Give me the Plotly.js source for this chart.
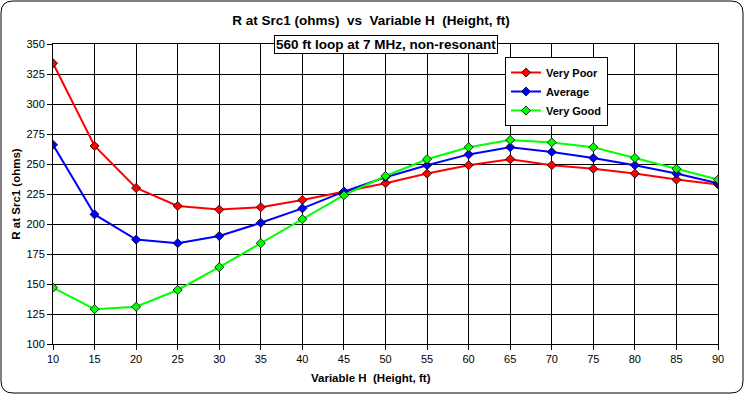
<!DOCTYPE html>
<html><head><meta charset="utf-8">
<script src="https://cdn.plot.ly/plotly-3.0.1.min.js"></script>
<style>html,body{margin:0;padding:0;background:#fff;}#chart{width:745px;height:395px;}</style>
</head><body><div id="chart"></div>
<script>
const heights = [10,15,20,25,30,35,40,45,50,55,60,65,70,75,80,85,90];
const veryPoor = [334,265,230,215,212,214,220,227,234,242,249,254,249,246,242,237,233];
const average  = [266,208,187,184,190,201,213,227,239,249,258,264,260,255,249,242,234];
const veryGood = [147,129,131,145,164,184,204,224,240,254,264,270,268,264,255,246,237];
const seriesNames = ["Very Poor","Average","Very Good"];
const seriesColors = ["#ff0000","#0000ff","#00ff00"];
const yTicks = [100,125,150,175,200,225,250,275,300,325,350];
const xTicks = heights;

const W=745,H=395,L=53,R=27,T=44,B=51;
const pw=W-L-R, ph=H-T-B;
const px = v => (v-L)/pw;
const py = v => 1-(v-T)/ph;

const data = [veryPoor,average,veryGood].map((ys,i)=>({
  x: heights, y: ys, name: '<b>'+seriesNames[i]+'</b>', type:'scatter', mode:'lines+markers',
  line:{color:seriesColors[i], width:2},
  marker:{symbol:'diamond', size:7, color:seriesColors[i], line:{color:'#000', width:0.8}}
}));

const x0=px(1),x1=px(743),y0=py(1),y1=py(393);
const r=12/pw, rv=12/ph;
const layout = {
  width:W, height:H, margin:{l:L,r:R,t:T,b:B},
  paper_bgcolor:'#fff', plot_bgcolor:'#fff',
  font:{family:'Arial, Liberation Sans, sans-serif', size:11, color:'#000'},
  title:{text:'<b>R at Src1 (ohms)  vs  Variable H  (Height, ft)</b>', font:{size:13.5}, x:px(371), xanchor:'center', xref:'paper', y:1-20/H, yanchor:'middle'},
  xaxis:{range:[10,90], tickvals:xTicks, ticktext:xTicks.map(String), showgrid:true, gridcolor:'#000', gridwidth:1,
    showline:true, linecolor:'#000', linewidth:1, mirror:true, ticks:'outside', ticklen:5, tickcolor:'#000',
    zeroline:false, fixedrange:true},
  yaxis:{range:[100,350], tickvals:yTicks, ticktext:yTicks.map(String), showgrid:true, gridcolor:'#000', gridwidth:1,
    showline:true, linecolor:'#000', linewidth:1, mirror:true, ticks:'outside', ticklen:5, tickcolor:'#000',
    zeroline:false, title:{text:'<b>R at Src1 (ohms)</b>', font:{size:11.5}, standoff:3}, fixedrange:true},
  legend:{x:px(505), y:py(57), xanchor:'left', yanchor:'top', bgcolor:'#fff', bordercolor:'#000', borderwidth:1,
    font:{size:11, family:'Arial, Liberation Sans, sans-serif'}, itemwidth:30, tracegroupgap:0},
  annotations:[{xref:'paper', yref:'paper', x:px(386), y:py(45), xanchor:'center', yanchor:'middle', showarrow:false,
    text:'<b>560 ft loop at 7 MHz, non-resonant</b>', font:{size:13.5}, bgcolor:'#fff', bordercolor:'#000', borderwidth:1, borderpad:1},
    {xref:'paper', yref:'paper', x:px(371), y:py(378), xanchor:'center', yanchor:'middle', showarrow:false,
    text:'<b>Variable H  (Height, ft)</b>', font:{size:11.5}}],
  shapes:[{type:'path', xref:'paper', yref:'paper', line:{color:'#000', width:1},
    path:`M ${x0+r} ${y0} L ${x1-r} ${y0} Q ${x1} ${y0} ${x1} ${y0-rv} L ${x1} ${y1+rv} Q ${x1} ${y1} ${x1-r} ${y1} L ${x0+r} ${y1} Q ${x0} ${y1} ${x0} ${y1+rv} L ${x0} ${y0-rv} Q ${x0} ${y0} ${x0+r} ${y0} Z`}]
};
Plotly.newPlot('chart', data, layout, {displayModeBar:false, staticPlot:true});
</script></body></html>
